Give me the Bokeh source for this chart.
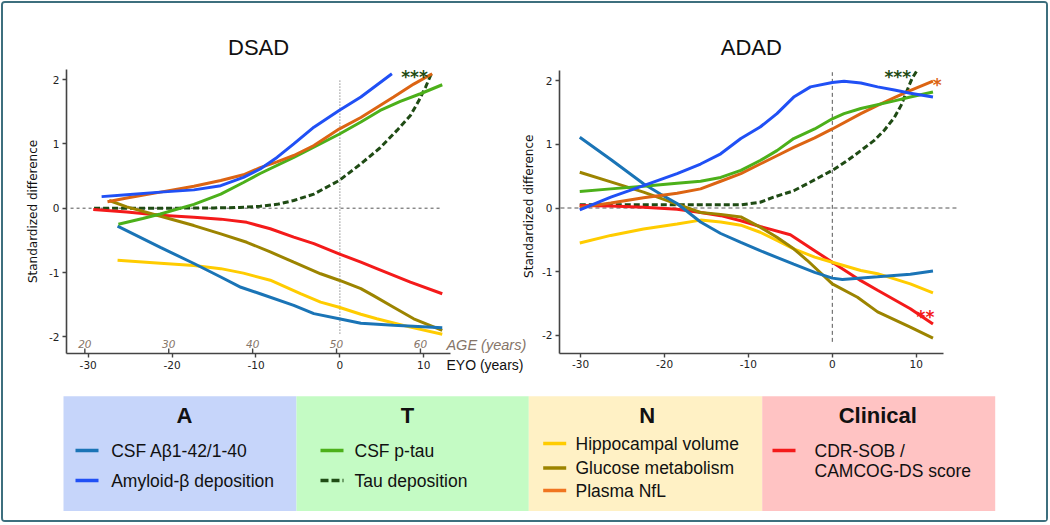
import math
from bokeh.plotting import figure
from bokeh.models import Range1d, Label, FixedTicker, LinearAxis, CustomJSTickFormatter
from bokeh.layouts import row, column
from bokeh.embed import file_html
from bokeh.resources import INLINE
from bokeh.core.properties import value

# ---------------- data ----------------
EYO_TICKS = [-30, -20, -10, 0, 10]
Y_TICKS = [-2, -1, 0, 1, 2]
AGE_TICKS = [20, 30, 40, 50, 60]
AGE_AT_EYO0 = 50.4

# DSAD
DS_CSF_AB_X = [-26.5, -21.4, -17.4, -14.2, -11.8, -9.5, -5.5, -3.1, -0.1, 2.5, 6.4, 12.2]
DS_CSF_AB_Y = [-0.28, -0.61, -0.86, -1.07, -1.23, -1.33, -1.51, -1.64, -1.72, -1.79, -1.82, -1.86]
DS_AMY_X = [-28.4, -25.4, -21.4, -17.4, -14.2, -11.5, -9.5, -7.5, -5.5, -3.1, -0.1, 2.5, 6.2]
DS_AMY_Y = [0.18, 0.21, 0.25, 0.285, 0.35, 0.48, 0.61, 0.79, 1.0, 1.26, 1.52, 1.73, 2.09]
DS_PTAU_X = [-26.4, -23.5, -21.4, -17.4, -14.2, -11.5, -9.5, -5.5, -0.1, 2.5, 4.8, 7.2, 9.6, 12.2]
DS_PTAU_Y = [-0.25, -0.16, -0.09, 0.06, 0.22, 0.40, 0.54, 0.79, 1.15, 1.34, 1.52, 1.66, 1.78, 1.92]
DS_TAU_X = [-29.3, -25.0, -20.0, -15.0, -12.0, -9.5, -7.5, -5.5, -3.1, -0.1, 2.5, 4.8, 6.8, 8.4, 9.4, 10.2, 11.0]
DS_TAU_Y = [0.0, 0.0, 0.0, 0.005, 0.01, 0.03, 0.06, 0.12, 0.22, 0.43, 0.69, 0.94, 1.21, 1.44, 1.67, 1.88, 2.12]
DS_HIPP_X = [-26.5, -21.4, -17.4, -14.2, -11.5, -8.3, -4.7, -2.3, -0.1, 2.5, 4.4, 8.4, 12.2]
DS_HIPP_Y = [-0.81, -0.855, -0.89, -0.94, -1.01, -1.12, -1.33, -1.46, -1.54, -1.65, -1.72, -1.85, -1.96]
DS_GLU_X = [-27.5, -25.4, -21.8, -17.4, -14.2, -11.1, -8.3, -5.5, -2.3, -0.1, 2.5, 4.0, 6.4, 8.8, 12.2]
DS_GLU_Y = [0.12, 0.02, -0.11, -0.27, -0.40, -0.53, -0.68, -0.84, -1.02, -1.12, -1.25, -1.36, -1.54, -1.72, -1.90]
DS_NFL_X = [-27.7, -25.4, -21.4, -17.4, -14.2, -11.5, -9.5, -7.5, -5.5, -3.1, -0.1, 2.5, 6.4, 8.8, 11.0]
DS_NFL_Y = [0.10, 0.16, 0.25, 0.34, 0.43, 0.52, 0.63, 0.72, 0.82, 0.975, 1.23, 1.41, 1.73, 1.93, 2.09]
DS_CLIN_X = [-29.4, -25.4, -21.4, -17.4, -14.2, -11.1, -8.3, -5.5, -3.1, -0.1, 2.5, 4.4, 8.4, 12.2]
DS_CLIN_Y = [-0.02, -0.06, -0.11, -0.14, -0.17, -0.22, -0.32, -0.45, -0.55, -0.71, -0.84, -0.94, -1.15, -1.33]

# ADAD
AD_CSF_AB_X = [-30.1, -26.4, -22.5, -20.5, -18.5, -15.7, -13.3, -10.9, -8.6, -4.6, -2.1, 0.0, 1.2, 5.4, 9.3, 12.0]
AD_CSF_AB_Y = [1.11, 0.76, 0.38, 0.22, 0.07, -0.22, -0.40, -0.54, -0.67, -0.88, -1.01, -1.10, -1.12, -1.08, -1.04, -0.99]
AD_AMY_X = [-30.1, -26.4, -22.5, -18.5, -15.7, -13.3, -10.9, -8.6, -6.6, -4.6, -2.6, 0.0, 1.4, 3.4, 5.4, 7.4, 9.3, 12.0]
AD_AMY_Y = [-0.03, 0.17, 0.35, 0.54, 0.69, 0.85, 1.09, 1.27, 1.48, 1.74, 1.90, 1.97, 1.99, 1.96, 1.90, 1.85, 1.80, 1.74]
AD_PTAU_X = [-30.1, -26.4, -22.5, -18.5, -15.7, -13.3, -10.9, -8.6, -6.6, -4.6, -2.1, 0.0, 1.4, 3.4, 7.4, 9.3, 12.0]
AD_PTAU_Y = [0.26, 0.30, 0.34, 0.39, 0.42, 0.48, 0.59, 0.745, 0.90, 1.09, 1.24, 1.40, 1.48, 1.56, 1.68, 1.74, 1.82]
AD_TAU_X = [-30.1, -20.5, -10.9, -8.6, -7.0, -4.6, -3.0, 0.0, 1.8, 3.4, 5.0, 6.2, 7.4, 8.2, 8.9, 9.5, 10.2]
AD_TAU_Y = [0.05, 0.05, 0.05, 0.09, 0.17, 0.27, 0.38, 0.59, 0.745, 0.90, 1.06, 1.22, 1.42, 1.61, 1.84, 2.03, 2.18]
AD_HIPP_X = [-30.1, -26.4, -22.5, -18.5, -15.7, -13.3, -10.9, -8.6, -6.6, -4.6, -2.1, 0.0, 3.4, 5.4, 9.3, 12.0]
AD_HIPP_Y = [-0.55, -0.43, -0.33, -0.25, -0.19, -0.22, -0.27, -0.38, -0.51, -0.64, -0.77, -0.85, -0.98, -1.03, -1.19, -1.33]
AD_GLU_X = [-30.1, -26.4, -22.5, -18.5, -15.7, -13.3, -10.9, -8.6, -6.6, -4.6, -3.0, 0.0, 3.0, 5.4, 9.3, 12.0]
AD_GLU_Y = [0.56, 0.41, 0.25, 0.06, -0.07, -0.10, -0.14, -0.30, -0.46, -0.64, -0.82, -1.19, -1.40, -1.63, -1.87, -2.04]
AD_NFL_X = [-30.1, -26.4, -22.5, -18.5, -15.7, -13.3, -10.9, -8.6, -6.6, -4.6, -2.1, 0.0, 3.4, 5.4, 7.4, 8.9, 12.0]
AD_NFL_Y = [0.01, 0.08, 0.16, 0.23, 0.30, 0.42, 0.54, 0.69, 0.82, 0.95, 1.10, 1.24, 1.48, 1.61, 1.73, 1.82, 1.99]
AD_CLIN_X = [-30.1, -26.4, -22.5, -18.5, -15.7, -13.3, -10.9, -8.6, -5.0, -2.1, 0.0, 3.4, 5.4, 9.3, 12.0]
AD_CLIN_Y = [0.04, 0.03, 0.01, -0.02, -0.07, -0.12, -0.20, -0.29, -0.42, -0.67, -0.85, -1.14, -1.29, -1.58, -1.82]

# ---------------- styles ----------------
C_CSF_AB = "#1a74b6"
C_AMY = "#2050f5"
C_PTAU = "#4cb01a"
C_TAU = "#1f4b14"
C_HIPP = "#ffcc00"
C_GLU = "#9c8400"
C_NFL = "#dc6413"
C_NFL_LEG = "#f07520"
C_CLIN = "#f41a1a"
C_AGE = "#857569"
AX_COLOR = "#444444"
TICK_FONT = "DejaVu Sans"
SANS = "Liberation Sans"

FIG_H = 377
PLAIN = CustomJSTickFormatter(code="return String(tick);")


def make_axes(p, x_at, y_at, xb, yb, ylabel):
    xa = LinearAxis(fixed_location=y_at, bounds=xb, ticker=FixedTicker(ticks=EYO_TICKS))
    ya = LinearAxis(fixed_location=x_at, bounds=yb, ticker=FixedTicker(ticks=Y_TICKS))
    for ax in (xa, ya):
        ax.formatter = CustomJSTickFormatter(code="return String(tick);")
        ax.axis_line_color = AX_COLOR
        ax.axis_line_width = 1.6
        ax.major_tick_line_color = AX_COLOR
        ax.major_tick_line_width = 1.4
        ax.major_tick_out = 4
        ax.major_tick_in = 0
        ax.minor_tick_out = 0
        ax.minor_tick_in = 0
        ax.major_label_text_font = TICK_FONT
        ax.major_label_text_font_size = "10.5px"
        ax.major_label_text_color = "#222222"
        ax.major_label_standoff = 3
    if ylabel:
        ya.axis_label = ylabel
        ya.axis_label_text_font = TICK_FONT
        ya.axis_label_text_font_size = "12px"
        ya.axis_label_text_font_style = "normal"
        ya.axis_label_text_color = "#111111"
        ya.axis_label_standoff = 6
    p.add_layout(xa, "below")
    p.add_layout(ya, "left")


def new_fig(width, xr, yr):
    p = figure(width=width, height=FIG_H, title=None, output_backend="svg", toolbar_location=None,
               x_range=Range1d(*xr), y_range=Range1d(*yr), min_border=0,
               x_axis_type=None, y_axis_type=None)
    p.outline_line_color = None
    return p


def draw_series(p, d):
    for xs, ys, col, dash in d:
        p.line(xs, ys, line_color=col, line_width=3, line_dash=dash)


def star(p, x, y, txt, col):
    p.add_layout(Label(x=x, y=y, text=txt, text_color=col, text_font=TICK_FONT,
                       text_font_size="17px", text_font_style="bold",
                       text_align="center", text_baseline="alphabetic"))


def title_label(p, x, y, txt):
    p.add_layout(Label(x=x, y=y, text=txt, text_font=SANS, text_font_size="22px",
                       text_color="#111111", text_align="center", text_baseline="middle"))


# ---------------- left chart (DSAD) ----------------
XB_L = (-32.59, 13.2)
YB_L = (-2.26, 2.15)
pL = new_fig(533, (-40.095, 23.433), (-2.6796, 3.1835))
make_axes(pL, XB_L[0], YB_L[0], XB_L, YB_L, "Standardized difference")

pL.line([-32.1, 12.2], [0, 0], line_color="#555555", line_width=1, line_dash="3 3")
pL.line([0, 0], [-1.95, 2.01], line_color="#555555", line_width=1, line_dash="1 2")

draw_series(pL, [
    (DS_TAU_X, DS_TAU_Y, C_TAU, "6 3"),
    (DS_CLIN_X, DS_CLIN_Y, C_CLIN, "solid"),
    (DS_GLU_X, DS_GLU_Y, C_GLU, "solid"),
    (DS_HIPP_X, DS_HIPP_Y, C_HIPP, "solid"),
    (DS_CSF_AB_X, DS_CSF_AB_Y, C_CSF_AB, "solid"),
    (DS_PTAU_X, DS_PTAU_Y, C_PTAU, "solid"),
    (DS_NFL_X, DS_NFL_Y, C_NFL, "solid"),
    (DS_AMY_X, DS_AMY_Y, C_AMY, "solid"),
])

# age secondary scale (above the EYO axis line)
age_x = [a - AGE_AT_EYO0 for a in AGE_TICKS]
pL.segment(x0=age_x, y0=[YB_L[0]] * len(age_x), x1=age_x, y1=[YB_L[0] + 5 / 64.3] * len(age_x),
           line_color=AX_COLOR, line_width=1.4)
pL.text(x=age_x, y=[-2.115] * len(age_x), text=[str(a) for a in AGE_TICKS],
        text_font=value(TICK_FONT), text_font_size=value("10.5px"), text_font_style="italic",
        text_color=C_AGE, text_align="center", text_baseline="middle")

pL.add_layout(Label(x=12.7, y=-2.135, text="AGE (years)", text_font=SANS, text_font_size="14.5px",
                    text_font_style="italic", text_color=C_AGE, text_align="left", text_baseline="middle"))
pL.add_layout(Label(x=12.7, y=-2.446, text="EYO (years)", text_font=SANS, text_font_size="14px",
                    text_color="#111111", text_align="left", text_baseline="middle"))
title_label(pL, (XB_L[0] + XB_L[1]) / 2, 2.50, "DSAD")
star(pL, 8.9, 2.045, "***", C_TAU)
# y-axis title of the ADAD panel (sits in the gap between both panels)
pL.add_layout(Label(x=22.48, y=0.03, text="Standardized difference", angle=math.pi / 2,
                    text_font=TICK_FONT, text_font_size="12px", text_color="#111111",
                    text_align="center", text_baseline="middle"))

# ---------------- right chart (ADAD) ----------------
XB_R = (-32.515, 13.2)
YB_R = (-2.282, 2.15)
pR = new_fig(510, (-35.256, 25.530), (-2.706, 3.208))
make_axes(pR, XB_R[0], YB_R[0], XB_R, YB_R, None)

pR.line([-32.4, 15.0], [0, 0], line_color="#555555", line_width=1, line_dash="4 3")
pR.line([0, 0], [-2.10, 2.13], line_color="#555555", line_width=1, line_dash="4 3")

draw_series(pR, [
    (AD_TAU_X, AD_TAU_Y, C_TAU, "6 3"),
    (AD_CLIN_X, AD_CLIN_Y, C_CLIN, "solid"),
    (AD_HIPP_X, AD_HIPP_Y, C_HIPP, "solid"),
    (AD_GLU_X, AD_GLU_Y, C_GLU, "solid"),
    (AD_CSF_AB_X, AD_CSF_AB_Y, C_CSF_AB, "solid"),
    (AD_NFL_X, AD_NFL_Y, C_NFL, "solid"),
    (AD_PTAU_X, AD_PTAU_Y, C_PTAU, "solid"),
    (AD_AMY_X, AD_AMY_Y, C_AMY, "solid"),
])
title_label(pR, (XB_R[0] + XB_R[1]) / 2, 2.52, "ADAD")
star(pR, 7.8, 2.06, "***", C_TAU)
star(pR, 12.5, 1.93, "*", C_NFL)
star(pR, 11.1, -1.71, "**", C_CLIN)

# ---------------- legend panel ----------------
GROUPS = ["A", "T", "N", "Clinical"]
GROUP_FILL = ["#c6d5fa", "#c4fbc4", "#fff1c5", "#ffc3c3"]
BOX_LEFT = [60, 293, 525.3, 758.7]
BOX_RIGHT = [293, 525.3, 758.7, 991.7]
TITLE_X = [181, 404, 643.7, 874.3]

LEG_LABELS = ["CSF Aβ1-42/1-40", "Amyloid-β deposition", "CSF p-tau", "Tau deposition",
              "Hippocampal volume", "Glucose metabolism", "Plasma NfL", "CDR-SOB /\nCAMCOG-DS score"]
LEG_COLORS = [C_CSF_AB, C_AMY, C_PTAU, C_TAU, C_HIPP, C_GLU, C_NFL_LEG, C_CLIN]
LEG_DASH = ["solid", "solid", "solid", "8 3", "solid", "solid", "solid", "solid"]
LEG_X0 = [72, 72, 317, 317, 539.7, 539.7, 539.7, 769]
LEG_Y = [70, 100, 70, 100, 63, 87.5, 110, 70]
LEG_TX = [107.7, 107.7, 351, 351, 572, 572, 572, 811]

pLeg = figure(width=1043, height=140, title=None, output_backend="svg", toolbar_location=None,
              x_range=Range1d(0, 1043), y_range=Range1d(140, 0),
              min_border=0, x_axis_type=None, y_axis_type=None)
pLeg.grid.visible = False
pLeg.outline_line_color = None
pLeg.quad(left=BOX_LEFT, right=BOX_RIGHT, top=[15.7] * 4, bottom=[130.5] * 4,
          fill_color=GROUP_FILL, line_color=None)
pLeg.text(x=TITLE_X, y=[35] * 4, text=GROUPS, text_font=value(SANS), text_font_size=value("22px"),
          text_font_style="bold", text_color="#111111", text_align="center", text_baseline="middle")
for x0, yy, col, dash in zip(LEG_X0, LEG_Y, LEG_COLORS, LEG_DASH):
    pLeg.line([x0, x0 + 23], [yy, yy], line_color=col, line_width=3.5, line_dash=dash)
single = [i for i, t in enumerate(LEG_LABELS) if "\n" not in t]
pLeg.text(x=[LEG_TX[i] for i in single], y=[LEG_Y[i] for i in single], text=[LEG_LABELS[i] for i in single],
          text_font=value(SANS), text_font_size=value("17.5px"), text_color="#111111",
          text_align="left", text_baseline="middle")
multi = [i for i, t in enumerate(LEG_LABELS) if "\n" in t]
for i in multi:
    parts = LEG_LABELS[i].split("\n")
    pLeg.text(x=[LEG_TX[i]] * len(parts), y=[LEG_Y[i] + 20 * k for k in range(len(parts))], text=parts,
              text_font=value(SANS), text_font_size=value("17.5px"), text_color="#111111",
              text_align="left", text_baseline="middle")

root = column(row(pL, pR), pLeg,
              styles={"margin-left": "1px", "margin-top": "1px",
                      "border": "2px solid #3d6f7e", "border-radius": "4px"})

open("out.html", "w").write(file_html(root, INLINE))
